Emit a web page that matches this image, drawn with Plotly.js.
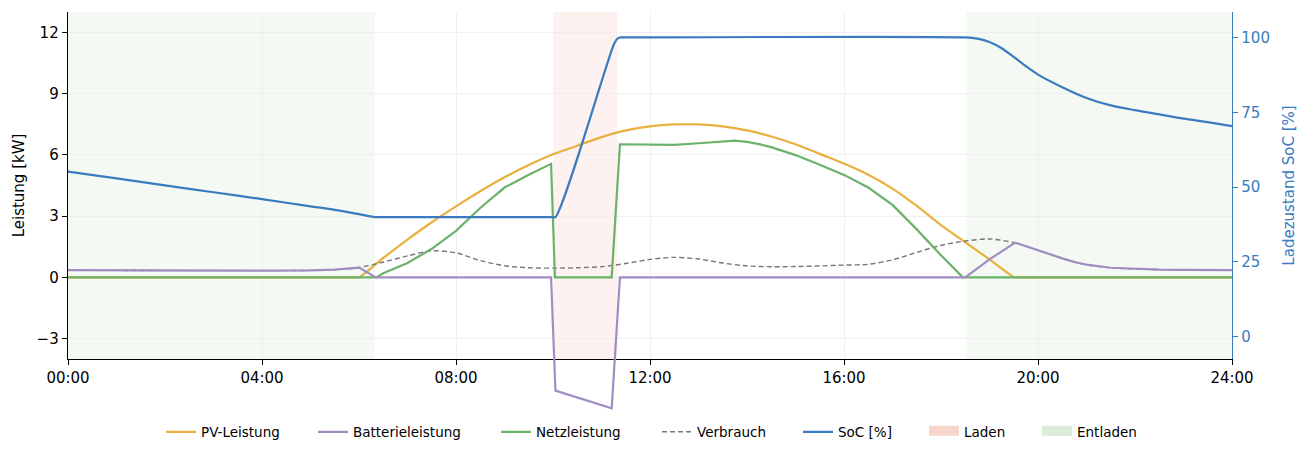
<!DOCTYPE html>
<html>
<head>
<meta charset="utf-8">
<script src="https://cdn.plot.ly/plotly-3.0.1.min.js"></script>
<style>
  html, body { margin: 0; padding: 0; background: #fff; }
  #chart { width: 1310px; height: 458px; }
</style>
</head>
<body>
<div id="chart"></div>
<script>
// ---- Data (hours of day) ----
const hourTicks = [0, 4, 8, 12, 16, 20, 24];
const hourLabels = ['00:00', '04:00', '08:00', '12:00', '16:00', '20:00', '24:00'];
const kwTicks = [-3, 0, 3, 6, 9, 12];
const socTicks = [0, 25, 50, 75, 100];

const pvHours = [0, 5.92, 6.0, 6.5, 7.0, 7.5, 8.0, 8.5, 9.0, 9.5, 10.0, 10.5, 11.0, 11.5, 12.0, 12.5, 13.0, 13.5, 14.0, 14.5, 15.0, 15.5, 16.0, 16.5, 17.0, 17.5, 18.0, 18.5, 19.0, 19.52, 19.6, 24];
const pvKW    = [0, 0, 0, 0.95, 1.85, 2.7, 3.48, 4.22, 4.9, 5.5, 6.03, 6.45, 6.87, 7.2, 7.4, 7.49, 7.49, 7.4, 7.2, 6.9, 6.52, 6.05, 5.58, 5.03, 4.35, 3.5, 2.56, 1.72, 0.88, 0, 0, 0];

const loadHours = [0, 1, 2, 3, 4, 5, 5.5, 6.0, 6.5, 7.0, 7.5, 8.0, 8.5, 9.0, 9.5, 10.0, 10.5, 11.0, 11.5, 12.0, 12.5, 13.0, 13.5, 14.0, 14.5, 15.0, 15.5, 16.0, 16.5, 17.0, 17.5, 18.0, 18.5, 19.0, 19.5, 20.0, 20.5, 21.0, 21.5, 22.0, 22.5, 23.0, 23.5, 24];
const loadKW    = [0.35, 0.34, 0.33, 0.33, 0.33, 0.34, 0.38, 0.48, 0.75, 1.05, 1.3, 1.2, 0.82, 0.57, 0.47, 0.45, 0.47, 0.52, 0.68, 0.88, 0.98, 0.9, 0.7, 0.56, 0.52, 0.53, 0.56, 0.6, 0.64, 0.86, 1.22, 1.57, 1.78, 1.88, 1.7, 1.33, 0.93, 0.62, 0.47, 0.41, 0.38, 0.37, 0.36, 0.35];

const battHours = [0, 1, 2, 3, 4, 5, 5.5, 6.0, 6.35, 9.96, 10.05, 11.21, 11.38, 18.5, 19.0, 19.53, 19.75, 20.0, 20.25, 20.5, 20.75, 21.0, 21.5, 22.0, 22.5, 23.0, 23.5, 24];
const battKW    = [0.35, 0.34, 0.33, 0.33, 0.33, 0.34, 0.38, 0.48, 0, 0, -5.55, -6.42, 0, 0, 0.88, 1.7, 1.52, 1.33, 1.12, 0.93, 0.75, 0.62, 0.47, 0.41, 0.38, 0.37, 0.36, 0.35];

const gridHours = [0, 6.36, 6.5, 7.0, 7.5, 8.0, 8.5, 9.0, 9.5, 9.96, 10.04, 11.21, 11.38, 11.5, 12.0, 12.5, 13.0, 13.5, 13.75, 14.0, 14.25, 14.5, 15.0, 15.5, 16.0, 16.5, 17.0, 17.5, 18.0, 18.45, 24];
const gridKW    = [0, 0, 0.2, 0.7, 1.4, 2.28, 3.4, 4.4, 5.03, 5.56, 0, 0, 6.52, 6.52, 6.52, 6.49, 6.57, 6.68, 6.7, 6.64, 6.53, 6.38, 5.99, 5.52, 5.02, 4.4, 3.55, 2.35, 1.08, 0, 0];

const socHours = [0, 1, 2, 3, 4, 5, 5.5, 6.0, 6.33, 6.4, 9.98, 10.05, 11.25, 11.32, 11.38, 11.45, 18.5, 18.75, 19.0, 19.25, 19.5, 19.75, 20.0, 20.5, 21.0, 21.5, 22.0, 22.5, 23.0, 23.5, 24];
const socPct   = [55.2, 52.9, 50.6, 48.3, 46.0, 43.6, 42.4, 41.0, 40.0, 40.0, 40.0, 40.0, 97.5, 99.5, 100, 100, 100, 99.6, 98.5, 96.4, 93.5, 90.4, 87.6, 83.4, 79.8, 77.3, 75.7, 74.3, 72.9, 71.7, 70.4];

const ladenStart = [10.0];
const ladenEnd = [11.33];
const entladenStart = [0, 18.52];
const entladenEnd = [6.33, 24];

// ---- Styles ----
const C = {
  pv: '#E9B03E', batt: '#A28DC3', grid: '#6BB26B', load: '#777777', soc: '#3A7BBF',
  ladenBand: '#FDF2EF', entladenBand: '#F4F9F3', ladenPatch: '#F6D6CB', entladenPatch: '#DCEBDA'
};
const FONT = 'DejaVu Sans, Liberation Sans, sans-serif';

// geometry: plot region 12..420 px; main axes occupy 12..362
const MAIN_BOTTOM = 58 / 408;

const traces = [
  {x: pvHours, y: pvKW, name: 'PV-Leistung', mode: 'lines', line: {color: C.pv, width: 2.2, shape: 'spline', smoothing: 0.8}, legend: 'legend'},
  {x: loadHours, y: loadKW, name: 'Verbrauch', mode: 'lines', line: {color: C.load, width: 1.4, dash: '5px,3px', shape: 'spline', smoothing: 0.8}, legend: 'legend4'},
  {x: battHours, y: battKW, name: 'Batterieleistung', mode: 'lines', xaxis: 'x2', yaxis: 'y3', line: {color: C.batt, width: 2.2}, legend: 'legend2'},
  {x: gridHours, y: gridKW, name: 'Netzleistung', mode: 'lines', line: {color: C.grid, width: 2.2}, legend: 'legend3'},
  {x: socHours, y: socPct, name: 'SoC [%]', mode: 'lines', yaxis: 'y2', line: {color: C.soc, width: 2.2, shape: 'spline', smoothing: 0.8}, legend: 'legend5'},
  {x: [null], y: [null], name: 'Laden', mode: 'lines', fill: 'toself', fillcolor: C.ladenPatch, line: {color: C.ladenPatch, width: 8}, legend: 'legend6'},
  {x: [null], y: [null], name: 'Entladen', mode: 'lines', fill: 'toself', fillcolor: C.entladenPatch, line: {color: C.entladenPatch, width: 8}, legend: 'legend7'}
];

const shapes = [];
ladenStart.forEach((s, i) => shapes.push({type: 'rect', xref: 'x', yref: 'y domain', x0: s, x1: ladenEnd[i], y0: 0, y1: 1, fillcolor: C.ladenBand, line: {width: 0}, layer: 'below'}));
entladenStart.forEach((s, i) => shapes.push({type: 'rect', xref: 'x', yref: 'y domain', x0: s, x1: entladenEnd[i], y0: 0, y1: 1, fillcolor: C.entladenBand, line: {width: 0}, layer: 'below'}));

// legend entries positioned like the reference (text start in px)
const legendTextStart = [202, 354, 537, 698, 839, 965, 1078];
function legendAt(i) {
  return {orientation: 'h', xref: 'container', yref: 'container', x: (legendTextStart[i] - 41) / 1310, xanchor: 'left',
          y: 1 - 432 / 458, yanchor: 'middle', font: {size: 13.5, family: FONT}, bgcolor: 'rgba(0,0,0,0)', borderwidth: 0, itemwidth: 30};
}

const layout = {
  width: 1310, height: 458,
  margin: {l: 68, r: 78, t: 12, b: 38},
  paper_bgcolor: '#ffffff', plot_bgcolor: 'rgba(0,0,0,0)',
  font: {family: FONT, size: 15, color: '#000'},
  showlegend: true,
  legend: legendAt(0), legend2: legendAt(1), legend3: legendAt(2), legend4: legendAt(3),
  legend5: legendAt(4), legend6: legendAt(5), legend7: legendAt(6),
  shapes: shapes,
  xaxis: {
    domain: [0, 1], anchor: 'y', range: [0, 24], tickmode: 'array', tickvals: hourTicks, ticktext: hourLabels,
    showgrid: true, gridcolor: '#ececec', gridwidth: 0.8, zeroline: false,
    showline: true, linecolor: '#000', linewidth: 1.3, ticks: 'outside', ticklen: 5, tickcolor: '#000',
    tickfont: {size: 15}
  },
  yaxis: {
    domain: [MAIN_BOTTOM, 1], anchor: 'x', range: [-4, 13], tickmode: 'array', tickvals: kwTicks,
    showgrid: true, gridcolor: '#ececec', gridwidth: 0.8, zeroline: false,
    showline: true, linecolor: '#000', linewidth: 1.3, ticks: 'outside', ticklen: 5, tickcolor: '#000',
    tickfont: {size: 15},
    title: {text: 'Leistung [kW]', font: {size: 15}, standoff: 8}
  },
  yaxis2: {
    overlaying: 'y', side: 'right', anchor: 'x', range: [-7.4, 108.5], tickmode: 'array', tickvals: socTicks,
    showgrid: false, zeroline: false,
    showline: true, linecolor: C.soc, linewidth: 1.3, ticks: 'outside', ticklen: 5, tickcolor: C.soc,
    tickfont: {size: 15, color: C.soc},
    title: {text: 'Ladezustand SoC [%]', font: {size: 15, color: C.soc}, standoff: 14}
  },
  // helper axes so the battery trace may run below the bottom spine (as in the reference)
  xaxis2: {domain: [0, 1], anchor: 'y3', range: [0, 24], visible: false, showgrid: false, zeroline: false},
  yaxis3: {domain: [0, 1], anchor: 'x2', range: [13 - 408 * 17 / 350, 13], visible: false, showgrid: false, zeroline: false}
};

Plotly.newPlot('chart', traces, layout, {displayModeBar: false, staticPlot: true});
</script>
</body>
</html>
